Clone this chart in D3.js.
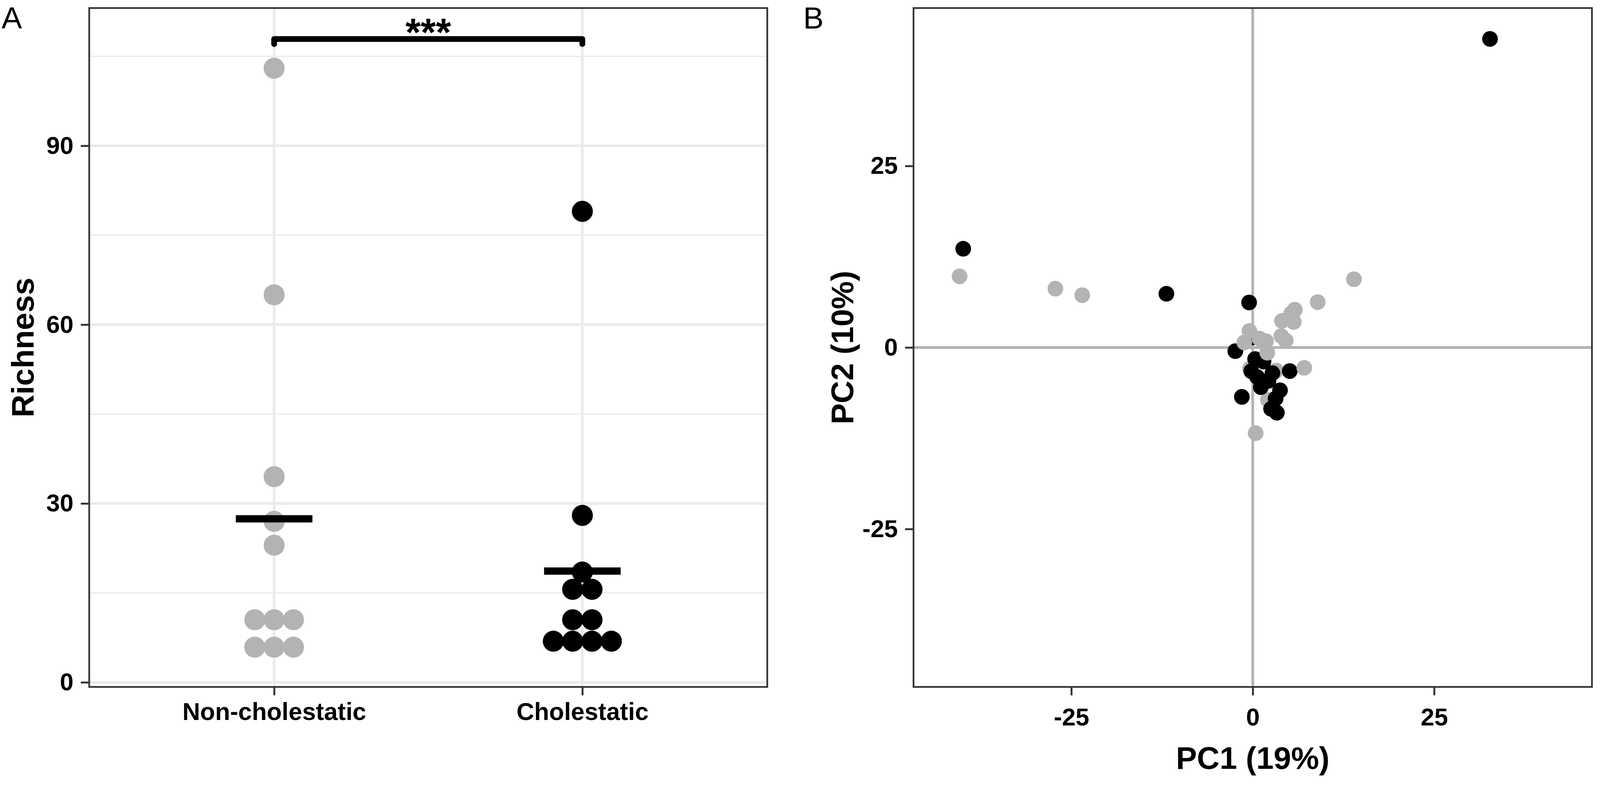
<!DOCTYPE html>
<html lang="en">
<head>
<meta charset="UTF-8" />
<title>Richness and PCA</title>
<script src="https://d3js.org/d3.v7.min.js"></script>
<style>
  html, body { margin: 0; padding: 0; background: #fff; overflow: hidden; }
  svg { display: block; background: #fff; width: 100vw; height: 100vh; }
  text { font-family: 'Liberation Sans', Arial, sans-serif; fill: #000; }
  .tick text { font-weight: bold; font-size: 64px; fill: #000; }
  .tick line { stroke: #333; stroke-width: 5px; }
  .axis-title { font-weight: bold; font-size: 82px; }
  .panel-tag { font-size: 80px; }
</style>
</head>
<body>
<svg viewBox="0 0 4179 2035" preserveAspectRatio="xMinYMin meet"></svg>
<script>
// groups and colours
const groups = ['Non-cholestatic', 'Cholestatic'];
const groupColor = { 'Non-cholestatic': '#b3b3b3', 'Cholestatic': '#000000' };

// panel A: richness per sample (dot plot bins)
const richNonChol = [103, 65, 34.5, 27, 23, 10.5, 10.5, 10.5, 5.9, 5.9, 5.9];
const richChol = [79, 28, 18.5, 15.6, 15.6, 10.5, 10.5, 6.9, 6.9, 6.9, 6.9];
const richTicks = [0, 30, 60, 90];
const richMinor = [15, 45, 75, 105];
const richDomain = [-0.77, 113.1];
const sigLabel = '***';
const sigY = 107.9, sigTip = 107.05;

// panel B: PCA scores (drawing order kept)
const pc1 = [3.24, -0.37, 2.09,
  32.7, -39.9, -11.9, -0.5, -2.4, 5.1, -1.5,
  0.0, 0.33, 1.48, -0.2, 2.71, 0.6, 1.12, 2.18, 3.76, 3.15, 2.53, 3.32,
  -40.4, -27.2, -23.5, 13.95, 8.95, 0.4, 7.1,
  5.8, 5.3, 4.03, 5.65, -0.46, -1.16, 0.95, 1.83, 3.94, 4.55, 2.0];
const pc2 = [-3.18, -2.91, -7.22,
  42.5, 13.6, 7.4, 6.2, -0.5, -3.25, -6.8,
  1.4, -1.59, -1.94, -3.26, -3.53, -4.05, -5.46, -4.58, -5.9, -7.04, -8.45, -8.98,
  9.8, 8.1, 7.2, 9.4, 6.25, -11.8, -2.8,
  5.2, 4.68, 3.66, 3.52, 2.28, 0.7, 1.22, 0.87, 1.57, 0.96, -0.71];
const pcGroup = ['N', 'N', 'N',
  'C', 'C', 'C', 'C', 'C', 'C', 'C',
  'C', 'C', 'C', 'C', 'C', 'C', 'C', 'C', 'C', 'C', 'C', 'C',
  'N', 'N', 'N', 'N', 'N', 'N', 'N',
  'N', 'N', 'N', 'N', 'N', 'N', 'N', 'N', 'N', 'N', 'N']
  .map(g => g === 'N' ? 'Non-cholestatic' : 'Cholestatic');
const pcTicks = [-25, 0, 25];
const pc1Title = 'PC1 (19%)', pc2Title = 'PC2 (10%)';

const svg = d3.select('svg');
const gridColor = '#ebebeb';

// ---------- panel A ----------
const A = { left: 233, right: 2004, top: 21, bottom: 1794 };
const xA = d3.scalePoint().domain(groups).range([A.left, A.right]).padding(0.6);
const yA = d3.scaleLinear().domain(richDomain).range([A.bottom, A.top]);

const gA = svg.append('g');
gA.selectAll('.minor').data(richMinor).enter().append('line')
  .attr('x1', A.left).attr('x2', A.right)
  .attr('y1', d => yA(d)).attr('y2', d => yA(d))
  .attr('stroke', gridColor).attr('stroke-width', 3.5);
gA.selectAll('.major').data(richTicks).enter().append('line')
  .attr('x1', A.left).attr('x2', A.right)
  .attr('y1', d => yA(d)).attr('y2', d => yA(d))
  .attr('stroke', gridColor).attr('stroke-width', 7);
gA.selectAll('.vmajor').data(groups).enter().append('line')
  .attr('x1', d => xA(d)).attr('x2', d => xA(d))
  .attr('y1', A.top).attr('y2', A.bottom)
  .attr('stroke', gridColor).attr('stroke-width', 7);

// dot plot: equal values stacked side by side, centred
const dotR = 27.5, dotStep = 50.5;
function stackDots(values, group) {
  const rows = d3.group(values, v => v);
  const out = [];
  rows.forEach((vals, v) => {
    vals.forEach((_, i) => out.push({ v, group, off: (i - (vals.length - 1) / 2) * dotStep }));
  });
  return out;
}
const dotsA = stackDots(richNonChol, groups[0]).concat(stackDots(richChol, groups[1]));
gA.selectAll('.dot').data(dotsA).enter().append('circle')
  .attr('cx', d => xA(d.group) + d.off)
  .attr('cy', d => yA(d.v))
  .attr('r', dotR)
  .attr('fill', d => groupColor[d.group]);

// mean bars
const means = [{ g: groups[0], m: d3.mean(richNonChol) }, { g: groups[1], m: d3.mean(richChol) }];
gA.selectAll('.mean').data(means).enter().append('rect')
  .attr('x', d => xA(d.g) - 100).attr('width', 200)
  .attr('y', d => yA(d.m) - 9.5).attr('height', 19)
  .attr('fill', '#000');

// significance bracket
gA.append('path')
  .attr('d', `M${xA(groups[0])},${yA(sigTip)}V${yA(sigY)}H${xA(groups[1])}V${yA(sigTip)}`)
  .attr('fill', 'none').attr('stroke', '#000').attr('stroke-width', 15)
  .attr('stroke-linejoin', 'round').attr('stroke-linecap', 'round');
gA.append('text')
  .attr('x', (xA(groups[0]) + xA(groups[1])) / 2).attr('y', 119)
  .attr('text-anchor', 'middle').style('font-weight', 'bold').style('font-size', '102px')
  .text(sigLabel);

gA.append('rect')
  .attr('x', A.left).attr('y', A.top)
  .attr('width', A.right - A.left).attr('height', A.bottom - A.top)
  .attr('fill', 'none').attr('stroke', '#333').attr('stroke-width', 4.5);

gA.append('g').attr('transform', `translate(${A.left},0)`)
  .call(d3.axisLeft(yA).tickValues(richTicks).tickSize(22).tickPadding(19))
  .call(g => g.select('.domain').remove());
gA.append('g').attr('transform', `translate(0,${A.bottom})`)
  .call(d3.axisBottom(xA).tickSize(22).tickPadding(19))
  .call(g => g.select('.domain').remove());

gA.append('text').attr('class', 'axis-title')
  .attr('transform', `translate(88,${(A.top + A.bottom) / 2}) rotate(-90)`)
  .attr('text-anchor', 'middle').text('Richness');
svg.append('text').attr('class', 'panel-tag').attr('x', 4).attr('y', 74).text('A');

// ---------- panel B ----------
const B = { left: 2386, right: 4158, top: 21, bottom: 1794 };
const maxAbs = d3.max(pc1.concat(pc2), v => Math.abs(v));
const pcDomain = [-maxAbs * 1.1, maxAbs * 1.1];
const xB = d3.scaleLinear().domain(pcDomain).range([B.left, B.right]);
const yB = d3.scaleLinear().domain(pcDomain).range([B.bottom, B.top]);

const gB = svg.append('g');
gB.append('line').attr('x1', B.left).attr('x2', B.right)
  .attr('y1', yB(0)).attr('y2', yB(0))
  .attr('stroke', '#b3b3b3').attr('stroke-width', 7);
gB.append('line').attr('y1', B.top).attr('y2', B.bottom)
  .attr('x1', xB(0)).attr('x2', xB(0))
  .attr('stroke', '#b3b3b3').attr('stroke-width', 7);

gB.selectAll('.pt').data(pc1.map((v, i) => ({ x: v, y: pc2[i], g: pcGroup[i] })))
  .enter().append('circle')
  .attr('cx', d => xB(d.x)).attr('cy', d => yB(d.y))
  .attr('r', 20.5).attr('fill', d => groupColor[d.g]);

gB.append('rect')
  .attr('x', B.left).attr('y', B.top)
  .attr('width', B.right - B.left).attr('height', B.bottom - B.top)
  .attr('fill', 'none').attr('stroke', '#333').attr('stroke-width', 4.5);

gB.append('g').attr('transform', `translate(${B.left},0)`)
  .call(d3.axisLeft(yB).tickValues(pcTicks).tickSize(22).tickPadding(19).tickFormat(d => String(d)))
  .call(g => g.select('.domain').remove());
gB.append('g').attr('transform', `translate(0,${B.bottom})`)
  .call(d3.axisBottom(xB).tickValues(pcTicks).tickSize(22).tickPadding(33).tickFormat(d => String(d)))
  .call(g => g.select('.domain').remove());

gB.append('text').attr('class', 'axis-title')
  .attr('x', (B.left + B.right) / 2).attr('y', 2008)
  .attr('text-anchor', 'middle').text(pc1Title);
gB.append('text').attr('class', 'axis-title')
  .attr('transform', `translate(2228,${(B.top + B.bottom) / 2}) rotate(-90)`)
  .attr('text-anchor', 'middle').text(pc2Title);
svg.append('text').attr('class', 'panel-tag').attr('x', 2098).attr('y', 74).text('B');
</script>
</body>
</html>
